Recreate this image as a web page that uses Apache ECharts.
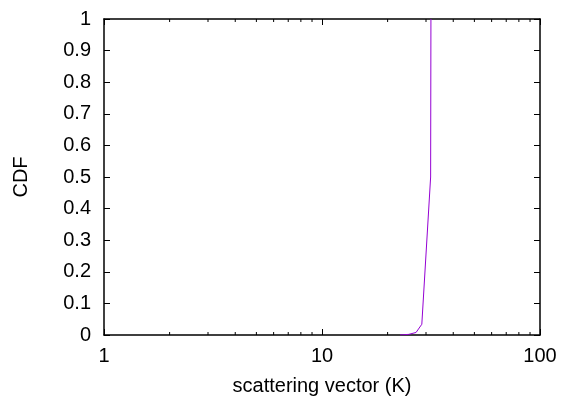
<!DOCTYPE html>
<html><head><meta charset="utf-8">
<script src="https://cdn.jsdelivr.net/npm/echarts@6/dist/echarts.min.js"></script>
<style>html,body{margin:0;padding:0;background:#fff}#c{width:561px;height:397px}</style>
</head><body><div id="c"></div>
<script>
var xValues = [22.8, 25.0, 27.0, 28.7, 31.5, 31.6];
var cdfValues = [0.0, 0.002, 0.008, 0.034, 0.5, 1.0];
var minorTickValues = [2,3,4,5,6,7,8,9,20,30,40,50,60,70,80,90];

var font = 'Liberation Sans, Arial, sans-serif';
var chart = echarts.init(document.getElementById('c'));
var tickStyle = {show:true, inside:true, length:6, lineStyle:{color:'#000', width:1}};
var lineStyle = {color:'#000', width:1.5};
chart.setOption({
  animation:false,
  grid:{left:104, right:21, top:19, bottom:62, containLabel:false, outerBoundsMode:'none'},
  xAxis:[{
    type:'log', logBase:10, min:1, max:100,
    name:'scattering vector (K)', nameLocation:'middle', nameGap:41,
    nameTextStyle:{fontFamily:font, fontSize:20, color:'#000'},
    axisLine:{show:true, onZero:false, lineStyle:lineStyle},
    axisTick:tickStyle,
    axisLabel:{fontFamily:font, fontSize:20, color:'#000', margin:11},
    splitLine:{show:false}
  },{
    type:'log', logBase:10, min:1, max:100, position:'top',
    axisLine:{show:true, onZero:false, lineStyle:lineStyle},
    axisTick:tickStyle, axisLabel:{show:false}, splitLine:{show:false}
  }],
  yAxis:[{
    type:'value', min:0, max:1, interval:0.1,
    name:'CDF', nameLocation:'middle', nameGap:73, nameRotate:90,
    nameTextStyle:{fontFamily:font, fontSize:20, color:'#000'},
    axisLine:{show:true, onZero:false, lineStyle:lineStyle},
    axisTick:tickStyle,
    axisLabel:{fontFamily:font, fontSize:20, color:'#000', margin:13,
      formatter:function(v){return String(Math.round(v*10)/10);}},
    splitLine:{show:false}
  },{
    type:'value', min:0, max:1, interval:0.1, position:'right',
    axisLine:{show:true, onZero:false, lineStyle:lineStyle},
    axisTick:tickStyle, axisLabel:{show:false}, splitLine:{show:false}
  }],
  series:[{
    type:'line', xAxisIndex:0, yAxisIndex:0,
    data:xValues.map(function(x,i){return [x, cdfValues[i]];}),
    showSymbol:false, symbol:'none',
    lineStyle:{color:'#9400D3', width:1}
  },{
    type:'custom', xAxisIndex:0, yAxisIndex:0,
    data:minorTickValues.map(function(v){return [v];}),
    renderItem:function(params, api){
      var b = api.coord([api.value(0), 0]);
      var t = api.coord([api.value(0), 1]);
      return {type:'group', children:[
        {type:'line', shape:{x1:b[0], y1:b[1], x2:b[0], y2:b[1]-3}, style:{stroke:'#000', lineWidth:1}},
        {type:'line', shape:{x1:t[0], y1:t[1], x2:t[0], y2:t[1]+3}, style:{stroke:'#000', lineWidth:1}}
      ]};
    },
    silent:true
  }]
});
</script></body></html>
